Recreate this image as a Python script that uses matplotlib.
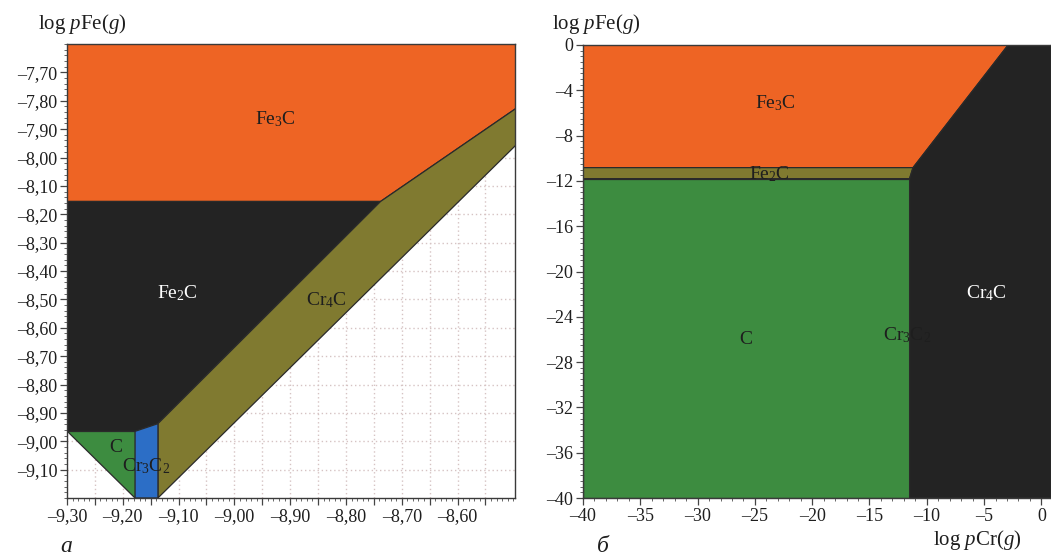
import numpy as np
import matplotlib
matplotlib.use("Agg")
import matplotlib.pyplot as plt
from matplotlib.patches import Polygon
from matplotlib.ticker import FixedLocator, MultipleLocator, AutoMinorLocator, FuncFormatter

plt.rcParams["font.family"] = ["Liberation Serif", "DejaVu Serif"]
plt.rcParams["mathtext.fontset"] = "custom"
plt.rcParams["mathtext.rm"] = "Liberation Serif"
plt.rcParams["mathtext.it"] = "Liberation Serif:italic"

# ---- panel (а): stability regions in log pCr(g) / log pFe(g) coordinates ----
a_xlim = (-9.30, -8.497)
a_ylim = (-9.20, -7.60)
a_xticks = [-9.30, -9.20, -9.10, -9.00, -8.90, -8.80, -8.70, -8.60]
a_yticks = [-7.70, -7.80, -7.90, -8.00, -8.10, -8.20, -8.30, -8.40,
            -8.50, -8.60, -8.70, -8.80, -8.90, -9.00, -9.10]

a_fe3c_x = [-9.30, -8.49, -8.49, -8.738, -9.30]
a_fe3c_y = [-7.60, -7.60, -7.82, -8.155, -8.155]
a_fe2c_x = [-9.30, -8.738, -9.137, -9.178, -9.30]
a_fe2c_y = [-8.155, -8.155, -8.938, -8.965, -8.965]
a_cr4c_x = [-9.137, -9.137, -8.738, -8.49, -8.49]
a_cr4c_y = [-9.20, -8.938, -8.155, -7.82, -7.946]
a_c_x = [-9.30, -9.178, -9.178]
a_c_y = [-8.965, -8.965, -9.20]
a_cr3c2_x = [-9.178, -9.178, -9.137, -9.137]
a_cr3c2_y = [-9.20, -8.965, -8.938, -9.20]

# ---- panel (б) ----
b_xlim = (-40, 0.84)
b_ylim = (-40, 0)
b_xticks = [-40, -35, -30, -25, -20, -15, -10, -5, 0]
b_yticks = [0, -4, -8, -12, -16, -20, -24, -28, -32, -36, -40]

b_fe3c_x = [-40, -2.9, -11.2, -40]
b_fe3c_y = [0, 0, -10.83, -10.83]
b_fe2c_x = [-40, -11.2, -11.5, -40]
b_fe2c_y = [-10.83, -10.83, -11.8, -11.8]
b_c_x = [-40, -11.5, -11.5, -40]
b_c_y = [-11.8, -11.8, -40, -40]
b_cr4c_x = [-11.5, -11.5, -11.2, -2.9, 1.0, 1.0]
b_cr4c_y = [-40, -11.8, -10.83, 0, 0, -40]

ORANGE = "#ee6424"
BLACK = "#232323"
OLIVE = "#807a30"
GREEN = "#3d8c40"
BLUE = "#2c6ec6"
EDGE = "#2a2a2a"
TEXT = "#1e1e1e"


def comma_fmt(decimals):
    def f(v, pos):
        s = f"{v:.{decimals}f}".replace(".", ",")
        return s.replace("-", "\u2013")
    return FuncFormatter(f)


def region(ax, xs, ys, color):
    ax.add_patch(Polygon(np.column_stack([xs, ys]), closed=True,
                         facecolor=color, edgecolor=EDGE, linewidth=0.9,
                         zorder=2))


def style_axes(ax):
    for sp in ax.spines.values():
        sp.set_color("#3a3a3a")
        sp.set_linewidth(1.0)
        sp.set_zorder(5)
    ax.tick_params(which="major", direction="out", length=5, width=0.9,
                   color="#444444", labelsize=13, labelcolor=TEXT, pad=2)
    ax.tick_params(which="minor", direction="out", length=2.5, width=0.7,
                   color="#666666")


fig = plt.figure(figsize=(10.51, 5.56), dpi=100)

# panel а
ax1 = fig.add_axes([67 / 1051, 58 / 556, 448 / 1051, 454 / 556])
ax1.set_xlim(*a_xlim)
ax1.set_ylim(*a_ylim)
ax1.xaxis.set_major_locator(FixedLocator(np.round(np.arange(-9.30, -8.52, 0.05), 2)))
ax1.xaxis.set_minor_locator(MultipleLocator(0.01))
ax1.xaxis.set_major_formatter(FuncFormatter(
    lambda v, p: comma_fmt(2)(v, p) if any(abs(v - t) < 1e-6 for t in a_xticks) else ""))
ax1.yaxis.set_major_locator(FixedLocator(a_yticks))
ax1.yaxis.set_minor_locator(MultipleLocator(0.02))
ax1.yaxis.set_major_formatter(comma_fmt(2))
ax1.grid(True, which="major", linestyle=(0, (1, 2)), color="#d6c3c3",
         linewidth=1.0, zorder=0)
ax1.set_axisbelow(True)
style_axes(ax1)

region(ax1, a_fe3c_x, a_fe3c_y, ORANGE)
region(ax1, a_fe2c_x, a_fe2c_y, BLACK)
region(ax1, a_cr4c_x, a_cr4c_y, OLIVE)
region(ax1, a_c_x, a_c_y, GREEN)
region(ax1, a_cr3c2_x, a_cr3c2_y, BLUE)

lab = dict(fontsize=14, ha="center", va="center", zorder=6)
ax1.text(-8.927, -7.866, "Fe$_3$C", color=TEXT, **lab)
ax1.text(-9.103, -8.479, "Fe$_2$C", color="white", **lab)
ax1.text(-8.835, -8.504, "Cr$_4$C", color=TEXT, **lab)
ax1.text(-9.212, -9.022, "C", color=TEXT, **lab)
ax1.text(-9.158, -9.086, "Cr$_3$C$_2$", color=TEXT, **lab)

# panel б
ax2 = fig.add_axes([583 / 1051, 58 / 556, 468 / 1051, 453 / 556])
ax2.set_xlim(*b_xlim)
ax2.set_ylim(*b_ylim)
ax2.xaxis.set_major_locator(FixedLocator(b_xticks))
ax2.xaxis.set_minor_locator(MultipleLocator(1))
ax2.yaxis.set_major_locator(FixedLocator(b_yticks))
ax2.yaxis.set_minor_locator(MultipleLocator(0.5))
ax2.xaxis.set_major_formatter(comma_fmt(0))
ax2.yaxis.set_major_formatter(comma_fmt(0))
style_axes(ax2)

region(ax2, b_fe3c_x, b_fe3c_y, ORANGE)
region(ax2, b_fe2c_x, b_fe2c_y, OLIVE)
region(ax2, b_c_x, b_c_y, GREEN)
region(ax2, b_cr4c_x, b_cr4c_y, BLACK)

ax2.text(-23.25, -5.12, "Fe$_3$C", color=TEXT, **lab)
ax2.text(-23.77, -11.38, "Fe$_2$C", color=TEXT, **lab)
ax2.text(-4.83, -21.9, "Cr$_4$C", color="white", **lab)
ax2.text(-11.73, -25.6, "Cr$_3$C$_2$", color=TEXT, **lab)
ax2.text(-25.78, -26.0, "C", color=TEXT, **lab)

# axis titles and panel letters
fig.text(38 / 1051, 1 - 24 / 556, r"log $\it{p}$Fe($\it{g}$)", fontsize=15,
         ha="left", va="center", color=TEXT)
fig.text(552 / 1051, 1 - 24 / 556, r"log $\it{p}$Fe($\it{g}$)", fontsize=15,
         ha="left", va="center", color=TEXT)
fig.text(977 / 1051, 1 - 540 / 556, r"log $\it{p}$Cr($\it{g}$)", fontsize=15,
         ha="center", va="center", color=TEXT)
fig.text(66 / 1051, 1 - 546 / 556, "а", fontsize=17, style="italic",
         ha="center", va="center", color=TEXT)
fig.text(603 / 1051, 1 - 546 / 556, "б", fontsize=17, style="italic",
         ha="center", va="center", color=TEXT)

fig.savefig("out.png", dpi=100, facecolor="white")
